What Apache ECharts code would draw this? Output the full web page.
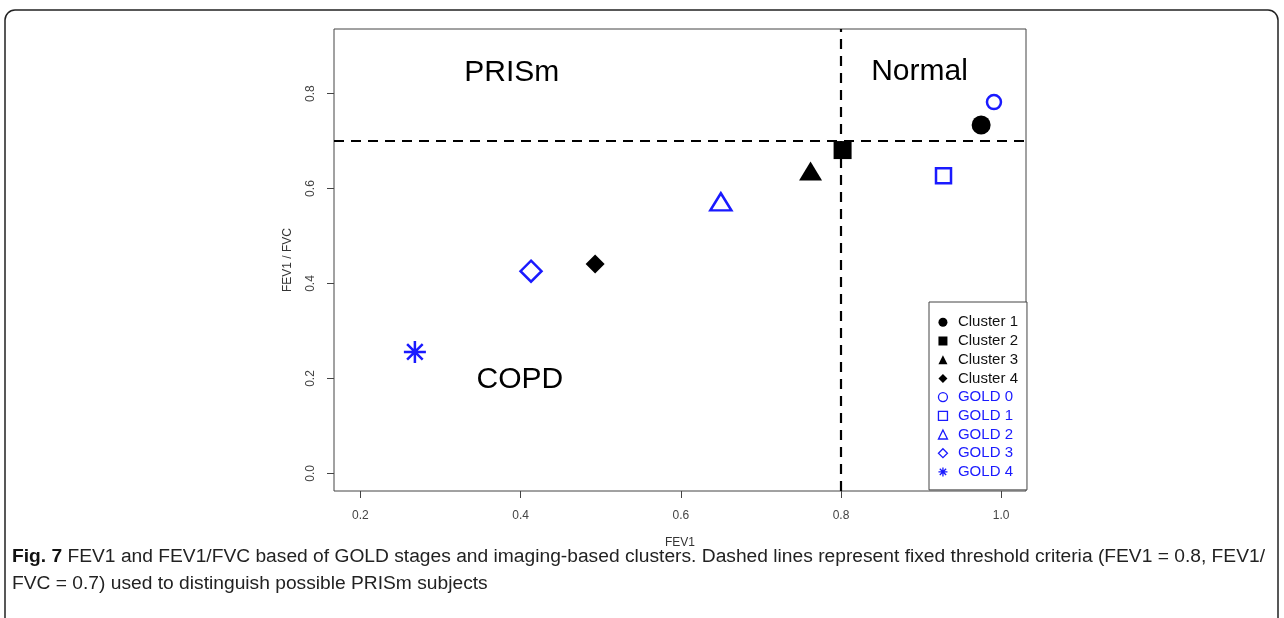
<!DOCTYPE html>
<html>
<head>
<meta charset="utf-8">
<script src="https://cdn.jsdelivr.net/npm/echarts@6/dist/echarts.min.js"></script>
<style>
html,body{margin:0;padding:0;background:#fff;}
#chart{width:1284px;height:618px;}
</style>
</head>
<body>
<div id="chart"></div>
<script>
// ---- data ----
const clusterNames = ['Cluster 1', 'Cluster 2', 'Cluster 3', 'Cluster 4'];
const clusterFEV1 = [0.975, 0.802, 0.762, 0.493];
const clusterRatio = [0.734, 0.681, 0.637, 0.441];
const goldNames = ['GOLD 0', 'GOLD 1', 'GOLD 2', 'GOLD 3', 'GOLD 4'];
const goldFEV1 = [0.991, 0.928, 0.650, 0.413, 0.268];
const goldRatio = [0.782, 0.627, 0.572, 0.426, 0.256];
const xTicks = [0.2, 0.4, 0.6, 0.8, 1.0];
const yTicks = [0.0, 0.2, 0.4, 0.6, 0.8];
const fev1Threshold = 0.8;
const ratioThreshold = 0.7;
const regionNames = ['PRISm', 'Normal', 'COPD'];
const regionFEV1 = [0.389, 0.898, 0.399];
const regionRatio = [0.844, 0.846, 0.197];
const captionBold = 'Fig. 7';
const captionLine1 = ' FEV1 and FEV1/FVC based of GOLD stages and imaging-based clusters. Dashed lines represent fixed threshold criteria (FEV1 = 0.8, FEV1/';
const captionLine2 = 'FVC = 0.7) used to distinguish possible PRISm subjects';

// ---- styles ----
const BLUE = '#1a1aff';
const clusterSymbols = ['circle', 'rect', 'triangle', 'diamond'];
const clusterSizes = [[19, 19], [18, 18], [23, 19], [19, 19]];
const ASTER = 'path://M10 0 L10 20 M0 10 L20 10 M2.93 2.93 L17.07 17.07 M2.93 17.07 L17.07 2.93';
const goldSymbols = ['circle', 'rect', 'triangle', 'diamond', ASTER];
const goldSizes = [[14, 14], [15, 15], [21, 17], [21, 21], [22, 22]];

const series = [];
series.push({
  name: 'thresholds', type: 'scatter', data: [], z: 1, silent: true,
  markLine: {
    silent: true, symbol: ['none', 'none'], label: {show: false},
    lineStyle: {color: '#000', width: 2.2, type: [10, 7]},
    data: [{xAxis: fev1Threshold}, {yAxis: ratioThreshold}]
  }
});
clusterNames.forEach((n, i) => {
  series.push({
    name: n, type: 'scatter', z: 3,
    symbol: clusterSymbols[i], symbolSize: clusterSizes[i],
    itemStyle: {color: '#000', opacity: 1},
    data: [[clusterFEV1[i], clusterRatio[i]]]
  });
});
goldNames.forEach((n, i) => {
  series.push({
    name: n, type: 'scatter', z: 3,
    symbol: goldSymbols[i], symbolSize: goldSizes[i],
    itemStyle: {color: 'rgba(0,0,0,0)', borderColor: BLUE, borderWidth: 2.5, opacity: 1},
    data: [[goldFEV1[i], goldRatio[i]]]
  });
});
series.push({
  name: 'regions', type: 'scatter', symbolSize: 0, silent: true, z: 2,
  itemStyle: {opacity: 1, color: '#000'},
  data: regionNames.map((n, i) => ({name: n, value: [regionFEV1[i], regionRatio[i]]})),
  label: {show: true, position: 'inside', formatter: p => p.name,
    fontFamily: 'Liberation Sans', fontSize: 30, color: '#000', opacity: 1,
    textBorderWidth: 0, textBorderColor: 'transparent'}
});

const legendData = clusterNames.map(n => ({name: n, textStyle: {color: '#111'}}))
  .concat(goldNames.map(n => ({name: n, textStyle: {color: BLUE}, itemStyle: {borderWidth: 1.3}})));

// caption horizontal condensing to match the narrow caption face
const CAP_FS = 18;
const mctx = document.createElement('canvas').getContext('2d');
mctx.font = 'bold ' + CAP_FS + 'px "Liberation Sans"';
const wBold = mctx.measureText(captionBold).width;
mctx.font = CAP_FS + 'px "Liberation Sans"';
const wNorm = mctx.measureText(captionLine1).width;
const capScale = 1253 / (wBold + wNorm);

const chart = echarts.init(document.getElementById('chart'), null, {renderer: 'canvas'});
chart.setOption({
  animation: false,
  backgroundColor: '#fff',
  textStyle: {fontFamily: 'Liberation Sans'},
  grid: {left: 334, right: 258, top: 29, bottom: 127, show: true, borderColor: '#444', borderWidth: 1, backgroundColor: 'transparent'},
  xAxis: {
    type: 'value', min: 0.167, max: 1.031,
    name: 'FEV1', nameLocation: 'middle', nameGap: 46,
    nameTextStyle: {color: '#333', fontSize: 12},
    axisLine: {show: false, onZero: false}, splitLine: {show: false},
    axisTick: {show: true, inside: false, length: 7, lineStyle: {color: '#444'}, customValues: xTicks},
    axisLabel: {show: true, color: '#444', fontSize: 12, margin: 19, customValues: xTicks, formatter: v => v.toFixed(1)}
  },
  yAxis: {
    type: 'value', min: -0.037, max: 0.936,
    name: 'FEV1 / FVC', nameLocation: 'middle', nameGap: 40, nameRotate: 90,
    nameTextStyle: {color: '#333', fontSize: 12},
    axisLine: {show: false, onZero: false}, splitLine: {show: false},
    axisTick: {show: true, inside: false, length: 7, lineStyle: {color: '#444'}, customValues: yTicks},
    axisLabel: {show: true, color: '#444', fontSize: 12, rotate: 90, margin: 17, customValues: yTicks, formatter: v => v.toFixed(1)}
  },
  legend: {
    show: true, orient: 'vertical', left: 929, top: 302,
    data: legendData,
    itemWidth: 9, itemHeight: 9, itemGap: 3.7,
    padding: [12.8, 9, 10.5, 8.8],
    borderColor: '#444', borderWidth: 1, backgroundColor: '#fff',
    textStyle: {fontSize: 15, lineHeight: 15, fontFamily: 'Liberation Sans', padding: [0, 0, 0, 5.5]},
    selectedMode: false
  },
  graphic: [
    {type: 'rect', shape: {x: 5, y: 10, width: 1273, height: 700, r: 10}, style: {fill: 'none', stroke: '#222', lineWidth: 1.5}, silent: true},
    {type: 'text', x: 12, y: 544, scaleX: capScale, silent: true, style: {
      x: 0, y: 0, verticalAlign: 'top',
      text: '{b|' + captionBold + '}{n|' + captionLine1 + '}\n{n|' + captionLine2 + '}',
      rich: {
        b: {fontFamily: 'Liberation Sans', fontWeight: 'bold', fontSize: CAP_FS, fill: '#111', lineHeight: 27},
        n: {fontFamily: 'Liberation Sans', fontSize: CAP_FS, fill: '#222', lineHeight: 27}
      }
    }}
  ],
  series: series
});
</script>
</body>
</html>
